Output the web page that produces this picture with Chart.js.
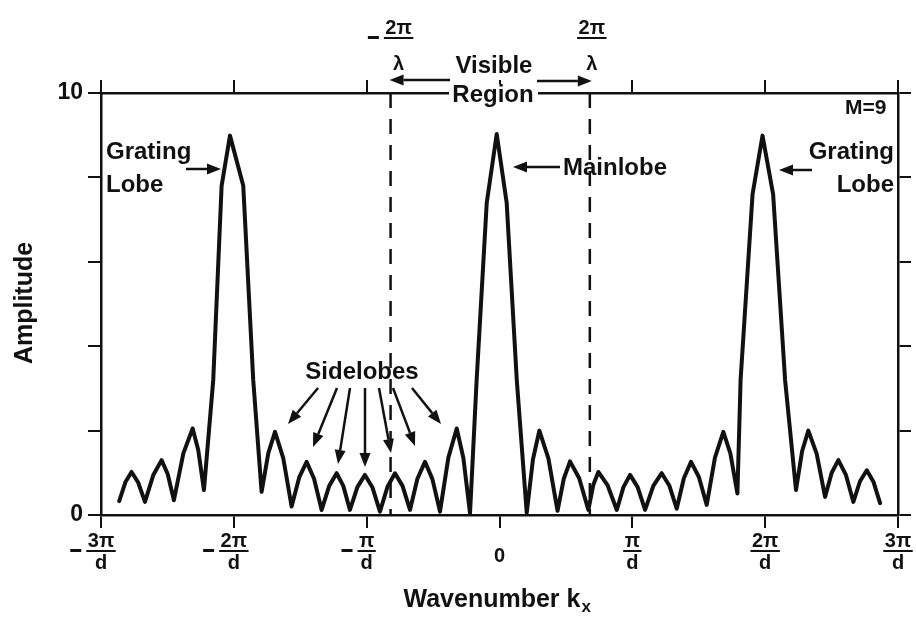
<!DOCTYPE html>
<html>
<head>
<meta charset="utf-8">
<script src="https://cdn.jsdelivr.net/npm/chart.js@4/dist/chart.umd.min.js"></script>
<style>
  html, body { margin: 0; padding: 0; background: #fff; }
</style>
</head>
<body>
<canvas id="graph" width="916" height="623"></canvas>
<script>
// wavenumber in units of pi/d, amplitude (M = 9)
const waveNumber = [
  -2.863, -2.816, -2.770, -2.720, -2.669, -2.606, -2.544, -2.498, -2.451, -2.380,
  -2.310, -2.268, -2.225, -2.155, -2.092, -2.029, -1.929, -1.854, -1.791, -1.740,
  -1.690, -1.628, -1.565, -1.508, -1.452, -1.396, -1.339, -1.282, -1.226, -1.176,
  -1.126, -1.070, -1.013, -0.956, -0.900, -0.843, -0.787, -0.730, -0.674, -0.618,
  -0.561, -0.505, -0.448, -0.385, -0.322, -0.272, -0.222, -0.172, -0.096, -0.021,
  0.054, 0.130, 0.205, 0.252, 0.300, 0.368, 0.437, 0.484, 0.531, 0.600,
  0.669, 0.706, 0.744, 0.813, 0.883, 0.933, 0.983, 1.040, 1.096, 1.158,
  1.221, 1.278, 1.334, 1.388, 1.442, 1.501, 1.560, 1.622, 1.685, 1.738,
  1.791, 1.815, 1.905, 1.980, 2.060, 2.150, 2.232, 2.278, 2.325, 2.388,
  2.451, 2.501, 2.551, 2.608, 2.664, 2.714, 2.765, 2.815, 2.865
];
const amplitude = [
  0.33, 0.78, 1.02, 0.77, 0.31, 0.95, 1.30, 0.97, 0.35, 1.46,
  2.05, 1.54, 0.59, 3.2, 7.8, 8.99, 7.8, 3.2, 0.55, 1.47,
  1.97, 1.35, 0.20, 0.89, 1.26, 0.86, 0.12, 0.69, 0.99, 0.69,
  0.12, 0.66, 0.95, 0.65, 0.08, 0.67, 0.99, 0.69, 0.12, 0.86,
  1.26, 0.85, 0.08, 1.36, 2.05, 1.35, 0.04, 3.2, 7.4, 9.03,
  7.4, 3.2, 0.05, 1.32, 2.00, 1.34, 0.10, 0.86, 1.27, 0.87,
  0.12, 0.71, 1.02, 0.71, 0.12, 0.66, 0.95, 0.66, 0.12, 0.69,
  0.99, 0.70, 0.15, 0.87, 1.26, 0.90, 0.24, 1.36, 1.97, 1.46,
  0.51, 3.2, 7.6, 8.99, 7.6, 3.2, 0.59, 1.51, 2.00, 1.45,
  0.43, 1.00, 1.30, 0.95, 0.31, 0.80, 1.06, 0.79, 0.28
];
// edges of the visible region (-2pi/lambda, 2pi/lambda)
const visibleEdges = [-0.82, 0.68];

const xTickValues = [-3, -2, -1, 0, 1, 2, 3];
const xTickNums = ['3π', '2π', 'π', '0', 'π', '2π', '3π'];
const xTickNeg = [true, true, true, false, false, false, false];
const yTickValues = [0, 10];

const ink = '#111';
const font = (s) => 'bold ' + s + 'px "Liberation Sans", Arial, sans-serif';

const curve = waveNumber.map((k, i) => ({ x: k, y: amplitude[i] }));
const edgeSets = visibleEdges.map(e => ({
  data: [{ x: e, y: 10 }, { x: e, y: 0 }],
  borderColor: ink,
  borderWidth: 2.5,
  borderDash: [15, 11],
  pointRadius: 0
}));

function arrow(ctx, x1, y1, x2, y2) {
  const a = Math.atan2(y2 - y1, x2 - x1), len = 14, half = 5.5;
  const bx = x2 - len * Math.cos(a), by = y2 - len * Math.sin(a);
  ctx.lineWidth = 2.5;
  ctx.beginPath(); ctx.moveTo(x1, y1); ctx.lineTo(bx, by); ctx.stroke();
  ctx.beginPath();
  ctx.moveTo(x2, y2);
  ctx.lineTo(bx + half * Math.sin(a), by - half * Math.cos(a));
  ctx.lineTo(bx - half * Math.sin(a), by + half * Math.cos(a));
  ctx.closePath(); ctx.fill();
}

function fraction(ctx, cx, numY, gap, num, den, neg) {
  ctx.font = font(20);
  ctx.textAlign = 'center';
  ctx.textBaseline = 'middle';
  const w = ctx.measureText(num).width + 3;
  ctx.fillText(num, cx, numY);
  ctx.fillRect(cx - w / 2, numY + 9, w, 2);
  ctx.fillText(den, cx, numY + gap);
  if (neg) ctx.fillRect(cx - w / 2 - 16, numY + 8, 11, 3);
}

const labels = {
  id: 'labels',
  beforeDraw(chart) {
    const ctx = chart.ctx;
    ctx.save();
    ctx.fillStyle = '#fff';
    ctx.fillRect(0, 0, chart.width, chart.height);
    ctx.restore();
  },
  afterDraw(chart) {
    const ctx = chart.ctx, xs = chart.scales.x, ys = chart.scales.y;
    ctx.save();
    ctx.fillStyle = ink;
    ctx.strokeStyle = ink;

    // x tick labels
    xTickValues.forEach((v, i) => {
      const px = xs.getPixelForValue(v);
      if (v === 0) {
        ctx.font = font(20); ctx.textAlign = 'center'; ctx.textBaseline = 'middle';
        ctx.fillText('0', px, 556);
      } else {
        fraction(ctx, px, 541, 22, xTickNums[i], 'd', xTickNeg[i]);
      }
    });

    // y tick labels
    ctx.font = font(23); ctx.textAlign = 'right'; ctx.textBaseline = 'middle';
    yTickValues.forEach(v => ctx.fillText(String(v), 83, ys.getPixelForValue(v)));

    // axis titles
    ctx.font = font(25); ctx.textAlign = 'left'; ctx.textBaseline = 'middle';
    const t = 'Wavenumber k';
    const tw = ctx.measureText(t).width;
    const tx = 497 - (tw + 10) / 2;
    ctx.fillText(t, tx, 600);
    ctx.font = font(17);
    ctx.fillText('x', tx + tw + 1, 607);

    ctx.save();
    ctx.translate(25, 303);
    ctx.rotate(-Math.PI / 2);
    ctx.font = font(25); ctx.textAlign = 'center';
    ctx.fillText('Amplitude', 0, 0);
    ctx.restore();

    // visible region markers on top
    const l = xs.getPixelForValue(visibleEdges[0]);
    const r = xs.getPixelForValue(visibleEdges[1]);
    fraction(ctx, l + 8, 28, 36, '2π', 'λ', true);
    fraction(ctx, r + 2, 28, 36, '2π', 'λ', false);

    ctx.fillStyle = '#fff';
    ctx.fillRect(449, 84, 89, 20);
    ctx.fillStyle = ink;
    ctx.font = font(24); ctx.textAlign = 'center'; ctx.textBaseline = 'middle';
    ctx.fillText('Visible', 494, 66);
    ctx.fillText('Region', 493, 95);
    arrow(ctx, 450, 80, l - 1, 80);
    arrow(ctx, 537, 81, r + 2, 81);

    // annotations
    ctx.textAlign = 'left';
    ctx.fillText('Grating', 106, 152);
    ctx.fillText('Lobe', 106, 185);
    arrow(ctx, 186, 169, 221, 169);

    ctx.textAlign = 'right';
    ctx.fillText('Grating', 894, 152);
    ctx.fillText('Lobe', 894, 185);
    arrow(ctx, 812, 170, 779, 170);

    ctx.textAlign = 'left';
    ctx.fillText('Mainlobe', 563, 168);
    arrow(ctx, 560, 167, 513, 167);

    ctx.font = font(21);
    ctx.fillText('M=9', 845, 108);

    ctx.font = font(24);
    ctx.textAlign = 'center';
    ctx.fillText('Sidelobes', 362, 372);
    const sideArrows = [
      [318, 388, 288, 424], [337, 388, 313, 447], [350, 388, 338, 464],
      [365, 388, 365, 467], [379, 388, 391, 453], [393, 388, 415, 446],
      [412, 388, 441, 424]
    ];
    sideArrows.forEach(a => arrow(ctx, a[0], a[1], a[2], a[3]));
    ctx.restore();
  }
};

const axisGrid = { drawOnChartArea: false, drawTicks: true, tickLength: 13, color: ink, lineWidth: 2 };
const axisBorder = { display: true, color: ink, width: 2.5 };

new Chart(document.getElementById('graph').getContext('2d'), {
  type: 'line',
  data: {
    datasets: [{
      data: curve,
      borderColor: ink,
      borderWidth: 4,
      borderJoinStyle: 'round',
      borderCapStyle: 'round',
      pointRadius: 0,
      tension: 0
    }].concat(edgeSets)
  },
  options: {
    responsive: false,
    animation: false,
    layout: { padding: { left: 88, right: 5, top: 80, bottom: 95 } },
    plugins: { legend: { display: false }, tooltip: { enabled: false } },
    scales: {
      x: {
        type: 'linear', position: 'bottom', min: -3, max: 3,
        afterBuildTicks: s => { s.ticks = xTickValues.map(v => ({ value: v })); },
        ticks: { display: false },
        grid: axisGrid, border: axisBorder
      },
      x2: {
        type: 'linear', axis: 'x', position: 'top', min: -3, max: 3,
        afterBuildTicks: s => { s.ticks = xTickValues.map(v => ({ value: v })); },
        ticks: { display: false },
        grid: axisGrid, border: axisBorder
      },
      y: {
        type: 'linear', position: 'left', min: 0, max: 10,
        ticks: { display: false, stepSize: 2 },
        grid: axisGrid, border: axisBorder
      },
      y2: {
        type: 'linear', axis: 'y', position: 'right', min: 0, max: 10,
        ticks: { display: false, stepSize: 2 },
        grid: axisGrid, border: axisBorder
      }
    }
  },
  plugins: [labels]
});
</script>
</body>
</html>
